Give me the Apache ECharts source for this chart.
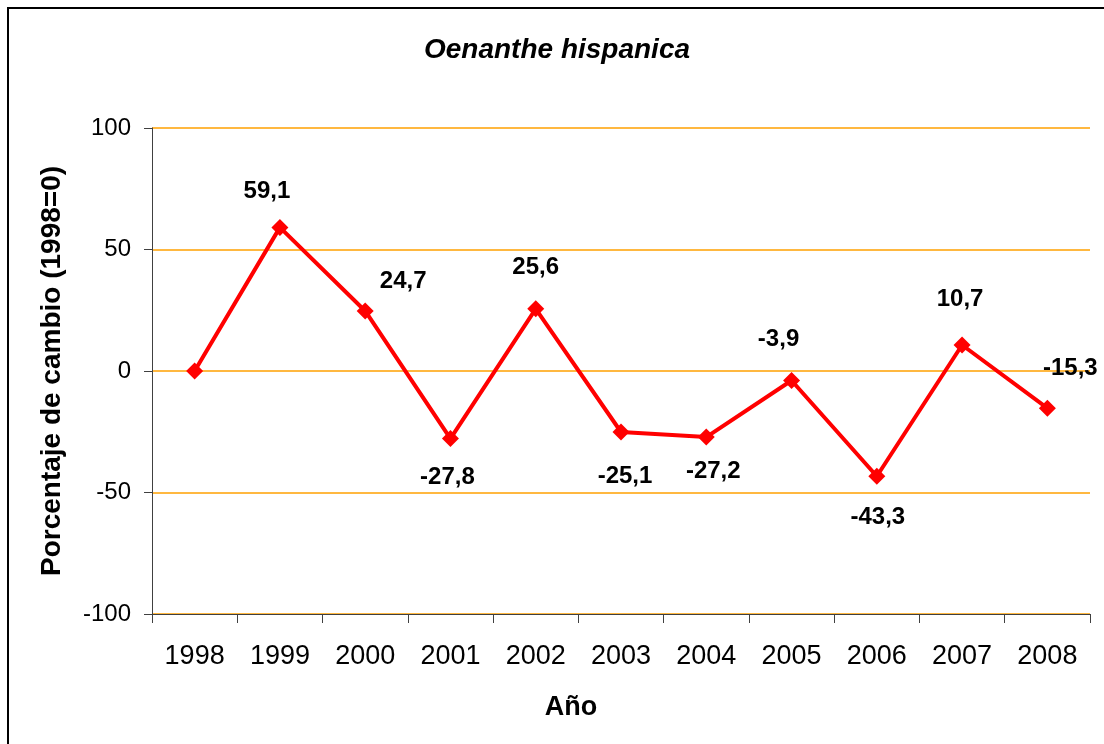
<!DOCTYPE html>
<html><head><meta charset="utf-8">
<script src="https://cdn.jsdelivr.net/npm/echarts@6/dist/echarts.min.js"></script>
<style>html,body{margin:0;padding:0;background:#fff}#c{width:1104px;height:744px}</style>
</head><body><div id="c"></div>
<script>
const years = ['1998','1999','2000','2001','2002','2003','2004','2005','2006','2007','2008'];
const values = [0, 59.1, 24.7, -27.8, 25.6, -25.1, -27.2, -3.9, -43.3, 10.7, -15.3];
const showLabel = [false, true, true, true, true, true, true, true, true, true, true];
const labelOffsets = [[0,0],[-13,-36],[38,-30],[-3,39],[0,-41],[4,44],[7,34],[-13,-41],[1,41],[-2,-46],[23,-40]];
const yTicks = [-100, -50, 0, 50, 100];

const font = 'Liberation Sans, Arial, sans-serif';
const data = values.map((v, i) => ({
  value: v,
  label: {
    show: showLabel[i],
    position: 'inside',
    offset: labelOffsets[i],
    formatter: p => String(p.value).replace('.', ',')
  }
}));

const chart = echarts.init(document.getElementById('c'), null, {renderer: 'canvas'});
chart.setOption({
  animation: false,
  backgroundColor: '#fff',
  graphic: [{
    type: 'rect', shape: {x: 8, y: 8, width: 1200, height: 800},
    style: {fill: 'none', stroke: '#000', lineWidth: 2}, z: 0
  }],
  title: {
    text: 'Oenanthe hispanica', left: 552, top: 31, textAlign: 'center',
    textStyle: {fontFamily: font, fontStyle: 'italic', fontWeight: 'bold', fontSize: 28, color: '#000'}
  },
  grid: {left: 152, right: 14, top: 128, bottom: 130},
  xAxis: {
    type: 'category', data: years, boundaryGap: true,
    name: 'Año', nameLocation: 'middle', nameGap: 80,
    nameTextStyle: {fontFamily: font, fontWeight: 'bold', fontSize: 27, color: '#000', padding: [0, 100, 0, 0]},
    axisLine: {onZero: false, lineStyle: {color: '#404040', width: 1}},
    axisTick: {show: true, length: 9, lineStyle: {color: '#404040'}},
    axisLabel: {fontFamily: font, fontSize: 27, color: '#000', margin: 29},
    splitLine: {show: false}
  },
  yAxis: {
    type: 'value', min: yTicks[0], max: yTicks[yTicks.length - 1], interval: 50,
    name: 'Porcentaje de cambio (1998=0)', nameLocation: 'middle', nameGap: 86,
    nameTextStyle: {fontFamily: font, fontWeight: 'bold', fontSize: 28, color: '#000'},
    axisLine: {show: true, lineStyle: {color: '#404040', width: 1}},
    axisTick: {show: true, length: 8, lineStyle: {color: '#404040'}},
    axisLabel: {fontFamily: font, fontSize: 24, color: '#000', margin: 21},
    splitLine: {show: true, lineStyle: {color: '#FFA000', width: 1.5}}
  },
  series: [{
    type: 'line', data: data,
    symbol: 'diamond', symbolSize: 17,
    lineStyle: {color: '#FF0000', width: 4},
    itemStyle: {color: '#FF0000'},
    label: {fontFamily: font, fontWeight: 'bold', fontSize: 24, color: '#000'}
  }]
});
</script></body></html>
